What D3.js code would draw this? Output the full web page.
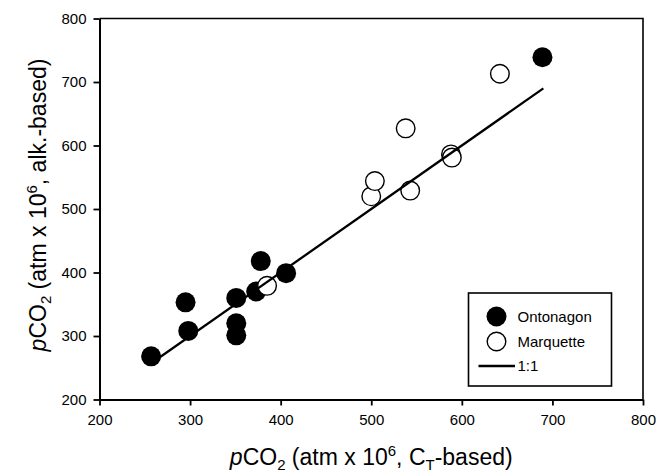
<!DOCTYPE html>
<html>
<head>
<meta charset="utf-8">
<script src="https://cdn.jsdelivr.net/npm/d3@7"></script>
<style>
  body { margin: 0; background: #fff; }
  text { font-family: "Liberation Sans", Arial, sans-serif; fill: #000; }
</style>
</head>
<body>
<script>
// values
var ontonagonX = [257, 295, 298, 351, 351, 351, 373, 378, 406, 689];
var ontonagonY = [268, 353, 308, 360, 320, 301, 370, 418, 399, 739];
var marquetteX = [385, 500, 504, 538, 543, 588, 589, 642];
var marquetteY = [379, 520, 544, 627, 529, 586, 581, 713];
var oneToOne = [265, 690];
var xTicks = [200, 300, 400, 500, 600, 700, 800];
var yTicks = [200, 300, 400, 500, 600, 700, 800];
var legendLabels = ['Ontonagon', 'Marquette', '1:1'];

var width = 656;
var height = 475;
var plotLeft = 99.5, plotRight = 643, plotTop = 18.5, plotBottom = 399.5;

var svg = d3.select('body')
            .append('svg')
            .attr('width', width)
            .attr('height', height);

var x = d3.scaleLinear().domain([200, 800]).range([plotLeft, plotRight]);
var y = d3.scaleLinear().domain([200, 800]).range([plotBottom, plotTop]);

// frame top and right
svg.append('path')
   .attr('d', 'M' + plotLeft + ',' + plotTop + 'H' + plotRight + 'V' + plotBottom)
   .attr('fill', 'none')
   .attr('stroke', '#000')
   .attr('stroke-width', 1.6);

var xAxis = svg.append('g')
               .attr('transform', 'translate(0,' + plotBottom + ')')
               .call(d3.axisBottom(x).tickValues(xTicks).tickSize(6).tickSizeOuter(0).tickPadding(9));

var yAxis = svg.append('g')
               .attr('transform', 'translate(' + plotLeft + ',0)')
               .call(d3.axisLeft(y).tickValues(yTicks).tickSize(6).tickSizeOuter(0).tickPadding(7));

[xAxis, yAxis].forEach(function (a) {
    a.select('.domain').attr('stroke', '#000').attr('stroke-width', 2);
    a.selectAll('.tick line').attr('stroke', '#000').attr('stroke-width', 1.8);
    a.selectAll('.tick text')
     .style('font-family', '"Liberation Sans", Arial, sans-serif')
     .style('font-size', '15px')
     .attr('fill', '#000');
});

var onto = ontonagonX.map(function (d, i) { return [d, ontonagonY[i]]; });
var marq = marquetteX.map(function (d, i) { return [d, marquetteY[i]]; });

svg.selectAll('circle.onto')
   .data(onto)
   .enter()
   .append('circle')
   .attr('class', 'onto')
   .attr('cx', function (d) { return x(d[0]); })
   .attr('cy', function (d) { return y(d[1]); })
   .attr('r', 10)
   .attr('fill', '#000');

svg.selectAll('circle.marq')
   .data(marq)
   .enter()
   .append('circle')
   .attr('class', 'marq')
   .attr('cx', function (d) { return x(d[0]); })
   .attr('cy', function (d) { return y(d[1]); })
   .attr('r', 9.3)
   .attr('fill', '#fff')
   .attr('stroke', '#000')
   .attr('stroke-width', 1.4);

svg.append('line')
   .attr('x1', x(oneToOne[0])).attr('y1', y(oneToOne[0]))
   .attr('x2', x(oneToOne[1])).attr('y2', y(oneToOne[1]))
   .attr('stroke', '#000')
   .attr('stroke-width', 2.3);

// axis titles with italic p, subscripts and superscript
function pco2Title(sel, tail) {
    sel.append('tspan').style('font-style', 'italic').text('p');
    sel.append('tspan').text('CO');
    sel.append('tspan').attr('font-size', '15px').attr('dy', 5).text('2');
    sel.append('tspan').attr('dy', -5).text(' (atm x 10');
    sel.append('tspan').attr('font-size', '15px').attr('dy', -9).text('6');
    sel.append('tspan').attr('dy', 9).text(', ');
    tail(sel);
}

var xTitle = svg.append('text')
                .attr('x', (plotLeft + plotRight) / 2)
                .attr('y', 465)
                .attr('text-anchor', 'middle')
                .style('font-size', '23px');
pco2Title(xTitle, function (s) {
    s.append('tspan').text('C');
    s.append('tspan').attr('font-size', '15px').attr('dy', 5).text('T');
    s.append('tspan').attr('dy', -5).text('-based)');
});

var yTitle = svg.append('text')
                .attr('transform', 'translate(46,205) rotate(-90)')
                .attr('text-anchor', 'middle')
                .style('font-size', '23px');
pco2Title(yTitle, function (s) {
    s.append('tspan').text('alk.-based)');
});

// legend
var legend = svg.append('g');
legend.append('rect')
      .attr('x', 468.5).attr('y', 293)
      .attr('width', 143).attr('height', 93)
      .attr('fill', '#fff')
      .attr('stroke', '#000')
      .attr('stroke-width', 1.6);

var rowY = [316.5, 341.5, 366];
legend.append('circle').attr('cx', 496.5).attr('cy', rowY[0]).attr('r', 10).attr('fill', '#000');
legend.append('circle').attr('cx', 496.5).attr('cy', rowY[1]).attr('r', 9.3)
      .attr('fill', '#fff').attr('stroke', '#000').attr('stroke-width', 1.4);
legend.append('line').attr('x1', 478.5).attr('x2', 515).attr('y1', rowY[2]).attr('y2', rowY[2])
      .attr('stroke', '#000').attr('stroke-width', 2.3);

legend.selectAll('text')
      .data(legendLabels)
      .enter()
      .append('text')
      .attr('x', 517.5)
      .attr('y', function (d, i) { return rowY[i] + 5; })
      .style('font-size', '15px')
      .text(function (d) { return d; });
</script>
</body>
</html>
